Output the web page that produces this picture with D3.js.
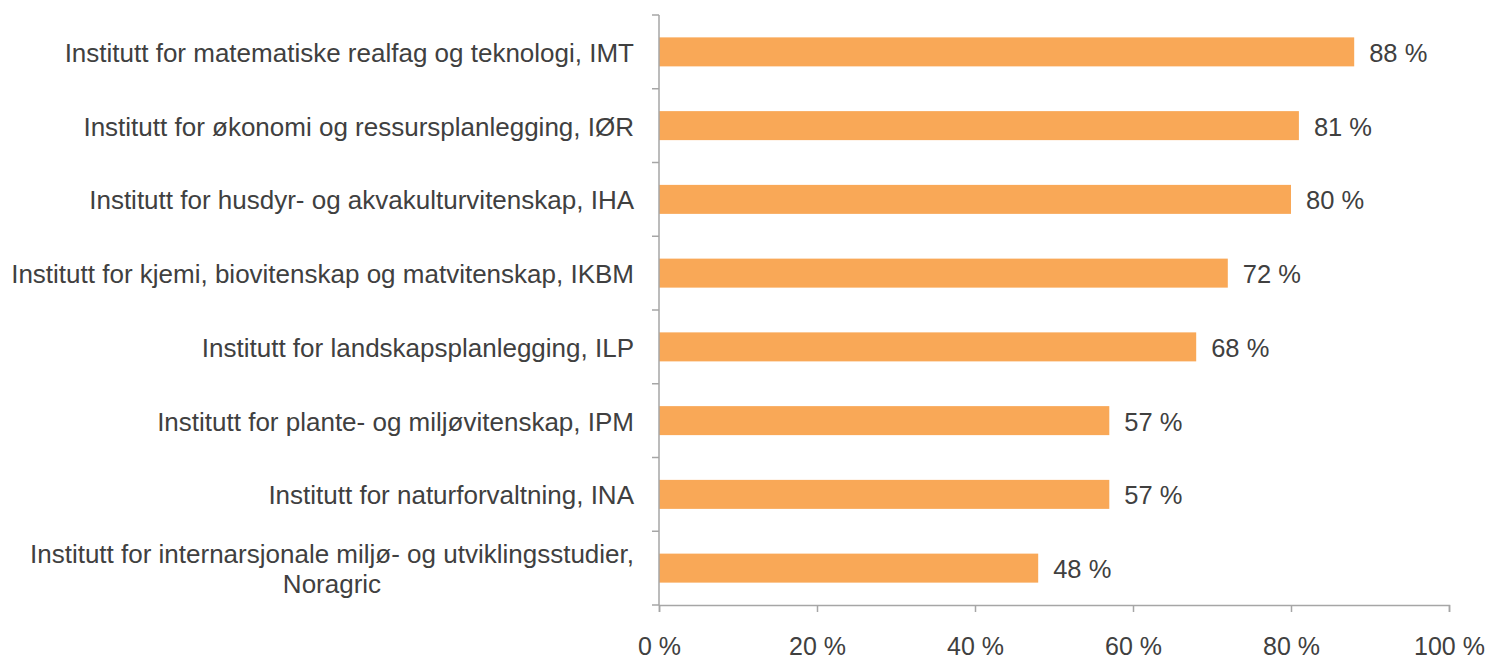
<!DOCTYPE html>
<html>
<head>
<meta charset="utf-8">
<script src="https://cdn.jsdelivr.net/npm/d3@7"></script>
<style>
  body { margin: 0; background: #fff; }
  text { font-family: "Liberation Sans", Arial, sans-serif; fill: #404040; }
</style>
</head>
<body>
<svg width="1486" height="659"></svg>
<script>
var categories = [
    "Institutt for matematiske realfag og teknologi, IMT",
    "Institutt for økonomi og ressursplanlegging, IØR",
    "Institutt for husdyr- og akvakulturvitenskap, IHA",
    "Institutt for kjemi, biovitenskap og matvitenskap, IKBM",
    "Institutt for landskapsplanlegging, ILP",
    "Institutt for plante- og miljøvitenskap, IPM",
    "Institutt for naturforvaltning, INA",
    "Institutt for internarsjonale miljø- og utviklingsstudier,|Noragric"
];
var values = [88, 81, 80, 72, 68, 57, 57, 48];
var xTicks = [0, 20, 40, 60, 80, 100];

var svg = d3.select("svg");
var x0 = 659, x1 = 1449, yTop = 15, yBot = 605;

var x = d3.scaleLinear().domain([0, 100]).range([x0, x1]);
var band = d3.scaleBand().domain(d3.range(categories.length)).range([yTop, yBot]);

var axisColor = "#a6a6a6";

// bars
svg.selectAll("rect.bar").data(values).enter().append("rect")
    .attr("class", "bar")
    .attr("x", x(0))
    .attr("y", function(d, i) { return band(i) + band.bandwidth() / 2 - 14.5; })
    .attr("width", function(d) { return x(d) - x(0); })
    .attr("height", 29)
    .attr("fill", "#f9a857");

// value labels
svg.selectAll("text.val").data(values).enter().append("text")
    .attr("class", "val")
    .attr("x", function(d) { return x(d) + 15; })
    .attr("y", function(d, i) { return band(i) + band.bandwidth() / 2 + 1; })
    .attr("dy", "0.35em")
    .attr("font-size", "25.5px")
    .text(function(d) { return d + " %"; });

// y axis line + ticks
svg.append("line")
    .attr("x1", x0).attr("x2", x0).attr("y1", yTop).attr("y2", yBot)
    .attr("stroke", axisColor).attr("stroke-width", 1.5);
var yTickPos = d3.range(categories.length + 1).map(function(i) { return yTop + i * band.step(); });
svg.selectAll("line.ytick").data(yTickPos).enter().append("line")
    .attr("x1", x0 - 7).attr("x2", x0).attr("y1", function(d) { return d; }).attr("y2", function(d) { return d; })
    .attr("stroke", axisColor).attr("stroke-width", 1.5);

// x axis
var xAxis = svg.append("g").attr("transform", "translate(0," + yBot + ")")
    .call(d3.axisBottom(x).tickValues(xTicks).tickSize(7).tickPadding(25).tickFormat(function(d) { return d + " %"; }));
xAxis.select(".domain").attr("stroke", axisColor).attr("stroke-width", 1.5);
xAxis.selectAll(".tick line").attr("stroke", axisColor).attr("stroke-width", 1.5);
xAxis.selectAll(".tick text").attr("font-size", "25px").attr("fill", "#404040")
    .attr("font-family", "Liberation Sans, Arial, sans-serif");

// category labels
var labelRight = 634;
categories.forEach(function(c, i) {
    var lines = c.split("|");
    var cy = band(i) + band.bandwidth() / 2 + 1;
    var lh = 30;
    var t = svg.append("text").attr("font-size", "26px");
    if (lines.length === 1) {
        t.attr("x", labelRight).attr("y", cy).attr("dy", "0.35em").attr("text-anchor", "end").text(c);
    } else {
        var spans = lines.map(function(l, k) {
            return t.append("tspan").attr("y", cy + (k - (lines.length - 1) / 2) * lh).attr("dy", "0.35em").text(l);
        });
        var w = d3.max(spans, function(s) { return s.node().getComputedTextLength(); });
        spans.forEach(function(s) { s.attr("x", labelRight - w / 2); });
        t.attr("text-anchor", "middle");
    }
});
</script>
</body>
</html>
